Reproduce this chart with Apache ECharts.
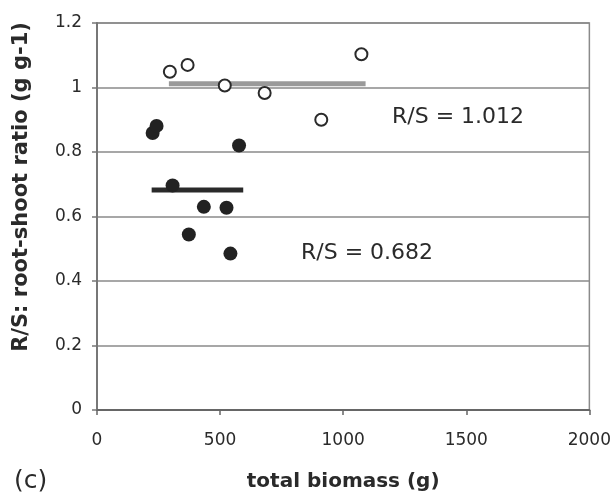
<!DOCTYPE html>
<html>
<head>
<meta charset="utf-8">
<script src="https://cdn.jsdelivr.net/npm/echarts@6/dist/echarts.min.js"></script>
<style>
html,body{margin:0;padding:0;background:#fff;}
#chart{width:614px;height:497px;}
</style>
</head>
<body>
<div id="chart"></div>
<script>
// Data
var openBiomass = [296, 368, 519, 681, 911, 1074];
var openRatio   = [1.049, 1.070, 1.006, 0.983, 0.900, 1.103];
var filledBiomass = [226, 242, 577, 307, 434, 526, 373, 542];
var filledRatio   = [0.859, 0.881, 0.820, 0.696, 0.630, 0.627, 0.544, 0.485];
var openMean = 1.012;
var openMeanRange = [292, 1091];
var filledMean = 0.682;
var filledMeanRange = [222, 594];
var xTicks = [0, 500, 1000, 1500, 2000];
var yTicks = [0, 0.2, 0.4, 0.6, 0.8, 1, 1.2];

function pairs(xs, ys) { return xs.map(function (x, i) { return [x, ys[i]]; }); }

var chart = echarts.init(document.getElementById('chart'));
var font = 'DejaVu Sans';
var txt = '#2a2a2a';
chart.setOption({
  animation: false,
  backgroundColor: '#fff',
  grid: { left: 97, right: 24, top: 23, bottom: 86, show: true, borderColor: '#8a8a8a', borderWidth: 1.5 },
  xAxis: {
    type: 'value', min: xTicks[0], max: xTicks[xTicks.length - 1], interval: 500,
    name: 'total biomass (g)', nameLocation: 'middle', nameGap: 62,
    nameTextStyle: { fontFamily: font, fontSize: 20, fontWeight: 'bold', color: txt },
    axisLine: { show: true, onZero: false, lineStyle: { color: '#666', width: 2 } },
    axisTick: { show: true, length: 5, lineStyle: { color: '#666', width: 1.5 } },
    axisLabel: { margin: 22, fontFamily: font, fontSize: 17, color: txt,
      formatter: function (v) { return String(v); } },
    splitLine: { show: false }
  },
  yAxis: {
    type: 'value', min: yTicks[0], max: yTicks[yTicks.length - 1], interval: 0.2,
    axisLine: { show: true, lineStyle: { color: '#777', width: 2 } },
    axisTick: { show: true, length: 5, lineStyle: { color: '#777', width: 1.5 } },
    axisLabel: { margin: 15, fontFamily: font, fontSize: 17, color: txt,
      formatter: function (v) { return String(Math.round(v * 10) / 10); } },
    splitLine: { show: true, lineStyle: { color: '#8a8a8a', width: 1.5 } }
  },
  graphic: [
    { type: 'text', x: 22, y: 187, rotation: Math.PI / 2,
      style: { text: 'R/S: root-shoot ratio (g g-1)', fontFamily: font, fontSize: 21, fontWeight: 'bold',
        fill: txt, align: 'center', verticalAlign: 'middle' } },
    { type: 'text', x: 14, y: 481,
      style: { text: '(c)', fontFamily: font, fontSize: 25, fill: txt, align: 'left', verticalAlign: 'middle' } },
    { type: 'text', x: 392, y: 117,
      style: { text: 'R/S = 1.012', fontFamily: font, fontSize: 22, fill: txt, align: 'left', verticalAlign: 'middle' } },
    { type: 'text', x: 301, y: 253,
      style: { text: 'R/S = 0.682', fontFamily: font, fontSize: 22, fill: txt, align: 'left', verticalAlign: 'middle' } }
  ],
  series: [
    { type: 'line', data: [[openMeanRange[0], openMean], [openMeanRange[1], openMean]],
      symbol: 'none', lineStyle: { color: '#9a9a9a', width: 5 }, z: 2, silent: true },
    { type: 'line', data: [[filledMeanRange[0], filledMean], [filledMeanRange[1], filledMean]],
      symbol: 'none', lineStyle: { color: '#2a2a2a', width: 5 }, z: 2, silent: true },
    { type: 'scatter', data: pairs(openBiomass, openRatio), symbol: 'circle', symbolSize: 12,
      itemStyle: { color: '#fff', borderColor: '#2a2a2a', borderWidth: 2, opacity: 1 }, z: 3 },
    { type: 'scatter', data: pairs(filledBiomass, filledRatio), symbol: 'circle', symbolSize: 14,
      itemStyle: { color: '#222', opacity: 1 }, z: 3 }
  ]
});
</script>
</body>
</html>
